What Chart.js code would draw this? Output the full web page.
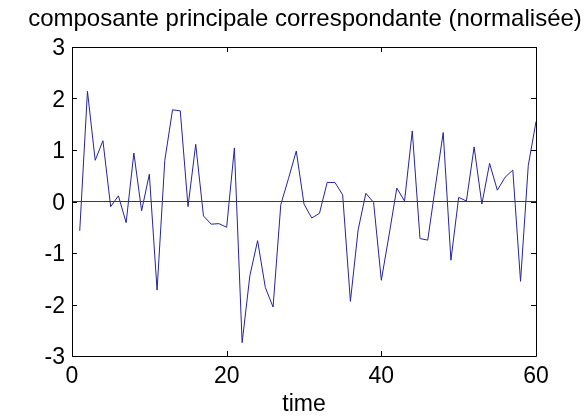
<!DOCTYPE html>
<html>
<head>
<meta charset="utf-8">
<script src="https://cdn.jsdelivr.net/npm/chart.js@4.4.0/dist/chart.umd.min.js"></script>
<style>
    html, body { margin: 0; padding: 0; background: #fff; }
    #wrap { width: 584px; height: 416px; }
</style>
</head>
<body>
<div id="wrap"><canvas id="chart" width="584" height="416"></canvas></div>
<script>
const titleText = "composante principale correspondante (normalisée)";
const xTitle = "time";

const time = [1, 2, 3, 4, 5, 6, 7, 8, 9, 10, 11, 12, 13, 14, 15, 16, 17, 18, 19, 20,
    21, 22, 23, 24, 25, 26, 27, 28, 29, 30, 31, 32, 33, 34, 35, 36, 37, 38, 39, 40,
    41, 42, 43, 44, 45, 46, 47, 48, 49, 50, 51, 52, 53, 54, 55, 56, 57, 58, 59, 60];
const component = [-0.57, 2.14, 0.80, 1.18, -0.10, 0.11, -0.41, 0.94, -0.18, 0.53,
    -1.72, 0.80, 1.78, 1.76, -0.10, 1.11, -0.28, -0.44, -0.43, -0.50,
    1.04, -2.74, -1.44, -0.76, -1.67, -2.05, -0.06, 0.45, 0.98, -0.05,
    -0.32, -0.23, 0.37, 0.37, 0.13, -1.94, -0.55, 0.16, -0.02, -1.53,
    -0.65, 0.26, 0.01, 1.37, -0.72, -0.75, 0.30, 1.34, -1.14, 0.08,
    0.01, 1.06, -0.05, 0.74, 0.22, 0.47, 0.61, -1.55, 0.70, 1.55];
const zeroLineX = [0, 60];
const zeroLineY = [0, 0];
const xTicks = [0, 20, 40, 60];
const yTicks = [-3, -2, -1, 0, 1, 2, 3];

const font = "'Liberation Sans', Arial, sans-serif";

// frame box with inward ticks, like the matlab axes
const framePlugin = {
    id: "frame",
    afterDatasetsDraw(chart) {
        const {ctx, chartArea: a, scales: {x, y}} = chart;
        const len = 5;
        ctx.save();
        ctx.strokeStyle = "#000";
        ctx.lineWidth = 1;
        ctx.beginPath();
        ctx.rect(Math.round(a.left) + 0.5, Math.round(a.top) + 0.5,
            Math.round(a.right - a.left), Math.round(a.bottom - a.top));
        xTicks.forEach(v => {
            const px = Math.round(x.getPixelForValue(v)) + 0.5;
            ctx.moveTo(px, a.bottom);
            ctx.lineTo(px, a.bottom - len);
            ctx.moveTo(px, a.top);
            ctx.lineTo(px, a.top + len);
        });
        yTicks.forEach(v => {
            const py = Math.round(y.getPixelForValue(v)) + 0.5;
            ctx.moveTo(a.left, py);
            ctx.lineTo(a.left + len, py);
            ctx.moveTo(a.right, py);
            ctx.lineTo(a.right - len, py);
        });
        ctx.stroke();

        // title, centred a bit right of the plot box as in the original
        ctx.fillStyle = "#000";
        ctx.font = "24px " + font;
        ctx.textAlign = "center";
        ctx.textBaseline = "middle";
        ctx.fillText(titleText, (a.left + a.right) / 2 + 1, 19);
        ctx.restore();
    }
};

new Chart(document.getElementById("chart"), {
    type: "line",
    data: {
        datasets: [{
            data: zeroLineX.map((t, i) => ({x: t, y: zeroLineY[i]})),
            borderColor: "#3a3a3a",
            borderWidth: 1,
            pointRadius: 0,
            tension: 0
        }, {
            data: time.map((t, i) => ({x: t, y: component[i]})),
            borderColor: "#24249c",
            borderWidth: 1,
            pointRadius: 0,
            tension: 0
        }]
    },
    options: {
        responsive: false,
        animation: false,
        layout: {padding: {left: 0, right: 48, top: 47, bottom: 0}},
        plugins: {
            legend: {display: false},
            tooltip: {enabled: false},
            title: {display: false}
        },
        scales: {
            x: {
                type: "linear",
                min: 0,
                max: 60,
                afterFit: s => { s.height = 60; },
                afterBuildTicks: s => { s.ticks = xTicks.map(v => ({value: v})); },
                grid: {display: false, drawTicks: false},
                border: {display: false},
                ticks: {color: "#000", padding: 7, font: {family: font, size: 23, lineHeight: 1.2}},
                title: {
                    display: true,
                    text: xTitle,
                    color: "#000",
                    font: {family: font, size: 23, lineHeight: 1},
                    padding: {top: 0, bottom: 0}
                }
            },
            y: {
                min: -3,
                max: 3,
                afterFit: s => { s.width = 72; },
                afterBuildTicks: s => { s.ticks = yTicks.map(v => ({value: v})); },
                grid: {display: false, drawTicks: false},
                border: {display: false},
                ticks: {color: "#000", padding: 7, labelOffset: 2, font: {family: font, size: 23}}
            }
        }
    },
    plugins: [framePlugin]
});
</script>
</body>
</html>
